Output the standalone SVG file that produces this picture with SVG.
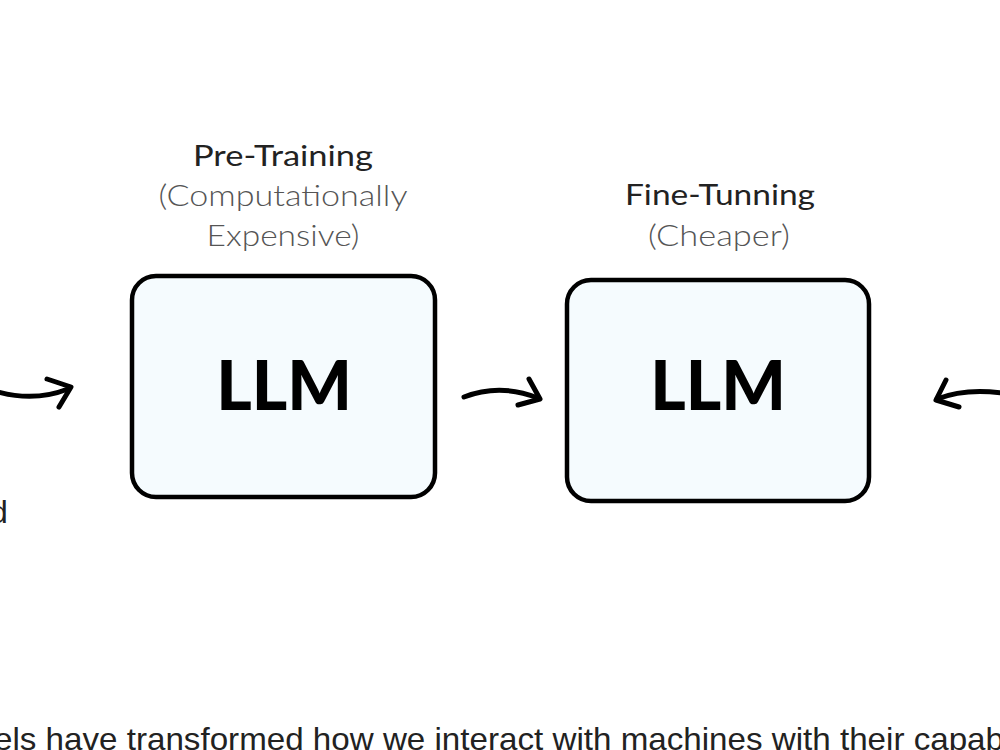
<svg xmlns="http://www.w3.org/2000/svg" width="1000" height="750" viewBox="0 0 1000 750">
<style>
.box{fill:#f5fbfe;stroke:#000;stroke-width:4.5}
.llm{font-family:Lato,"Liberation Sans",sans-serif;font-weight:900;font-size:68px;fill:#000;text-anchor:middle}
.title{font-family:Lato,"Liberation Sans",sans-serif;font-size:29px;fill:#222;text-anchor:middle}
.sub{font-family:Lato,"Liberation Sans",sans-serif;font-weight:300;font-size:29px;fill:#555;text-anchor:middle}
.arrow{fill:none;stroke:#000;stroke-width:5;stroke-linecap:round;stroke-linejoin:round}
.body{font-family:"Liberation Sans",Arial,sans-serif;font-size:32px;fill:#222}
</style>
<rect width="1000" height="750" fill="#fff"/>
<g id="pretrain">
<text class="title" x="283" y="166" textLength="180" lengthAdjust="spacingAndGlyphs">Pre-Training</text>
<text class="sub" x="283" y="206" textLength="249" lengthAdjust="spacingAndGlyphs">(Computationally</text>
<text class="sub" x="283" y="246" textLength="153" lengthAdjust="spacingAndGlyphs">Expensive)</text>
<rect class="box" x="132" y="276" width="303" height="221" rx="24"/>
<text class="llm" x="284" y="410">LLM</text>
</g>
<g id="finetune">
<text class="title" x="720" y="205" textLength="190" lengthAdjust="spacingAndGlyphs">Fine-Tunning</text>
<text class="sub" x="719" y="246" textLength="142" lengthAdjust="spacingAndGlyphs">(Cheaper)</text>
<rect class="box" x="567" y="280" width="302" height="221" rx="24"/>
<text class="llm" x="718" y="410">LLM</text>
</g>
<g id="left-fragment">
<text class="body" x="-10" y="523" font-size="30">d</text>
</g>
<g id="connectors">
<path class="arrow" d="M-2,392 Q35,402 68,389"/>
<path class="arrow" d="M47,379 L71,387 L59,407"/>
<path class="arrow" d="M464,397 Q500,383 538,398"/>
<path class="arrow" d="M529,379 L540,399 L518,405"/>
<path class="arrow" d="M1002,393 Q965,388 937,399"/>
<path class="arrow" d="M946,380 L936,400 L959,407"/>
</g>
<text class="body" x="-6" y="750" textLength="1010" lengthAdjust="spacingAndGlyphs">els have transformed how we interact with machines with their capab</text>
</svg>
